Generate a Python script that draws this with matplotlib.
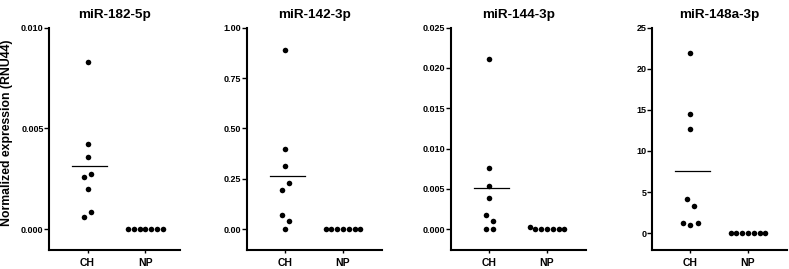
import numpy as np
import matplotlib
matplotlib.use("Agg")
import matplotlib.pyplot as plt

plt.rcParams['font.family'] = ['Liberation Sans', 'DejaVu Sans']

titles = ["miR-182-5p", "miR-142-3p", "miR-144-3p", "miR-148a-3p"]
groups = ["CH", "NP"]

ch_182 = [0.00829, 0.00421, 0.00360, 0.00276, 0.00260, 0.00202, 0.00084, 0.00059]
np_182 = [0, 0, 0, 0, 0, 0, 0]
ch_142 = [0.889, 0.398, 0.312, 0.228, 0.197, 0.069, 0.040, 0.0]
np_142 = [0, 0, 0, 0, 0, 0, 0]
ch_144 = [0.02116, 0.00764, 0.00537, 0.00380, 0.00169, 0.00095, 0.0, 0.0]
np_144 = [0.0002, 0, 0, 0, 0, 0, 0]
ch_148 = [21.9, 14.5, 12.7, 4.15, 3.27, 1.25, 0.97, 1.25]
np_148 = [0, 0, 0, 0, 0, 0, 0]

ytick_sets = [
    [0.000, 0.005, 0.010],
    [0.00, 0.25, 0.50, 0.75, 1.00],
    [0.000, 0.005, 0.010, 0.015, 0.020, 0.025],
    [0, 5, 10, 15, 20, 25],
]
ytick_fmt = ["{:.3f}", "{:.2f}", "{:.3f}", "{:.0f}"]
ylims = [(-0.00103, 0.010), (-0.103, 1.0), (-0.0026, 0.025), (-2.06, 25)]

# layout: dot slots for CH group (horizontal scatter), NP slots
ch_slots = [
    [0, 0, 0, 1, -1, 0, 1, -1],
    [0, 0, 0, 1, -1, -1, 1, 0],
    [0, 0, 0, 0, -1, 1, -1, 1],
    [0, 0, 0, -1, 1, -2, 0, 2],
]
np_slots = [-3, -2, -1, 0, 1, 2, 3]

ch_data = [ch_182, ch_142, ch_144, ch_148]
np_data = [np_182, np_142, np_144, np_148]

W, H = 789, 269
fig = plt.figure(figsize=(W / 100, H / 100), dpi=100)

lefts = [49, 246.7, 450.7, 651.7]
widths = [131, 135, 135, 135]
top_px, bot_px = 27.7, 250
unit = 57.8
for i in range(4):
    l = lefts[i]
    ax = fig.add_axes([l / W, (H - bot_px) / H, widths[i] / W, (bot_px - top_px) / H])
    x0 = 1 - 38.5 / unit
    ax.set_xlim(x0, x0 + widths[i] / unit)
    ax.set_ylim(*ylims[i])
    ch = np.array(ch_data[i])
    npv = np.array(np_data[i])
    ax.plot(1 + np.array(ch_slots[i]) * 0.0635, ch, 'o', color='black', ms=4.0, mew=0, clip_on=False)
    ax.plot(2 + np.array(np_slots) * 0.1, npv, 'o', color='black', ms=4.0, mew=0, clip_on=False)
    m = ch.mean()
    ax.plot([1 - 0.27, 1 + 0.34], [m, m], color='black', lw=0.9)
    for s in ['top', 'right']:
        ax.spines[s].set_visible(False)
    for s in ['left', 'bottom']:
        ax.spines[s].set_linewidth(1.5)
    ax.set_xticks([1, 2])
    ax.set_xticklabels(groups, fontsize=7.5, fontweight='bold')
    ax.set_yticks(ytick_sets[i])
    ax.set_yticklabels([ytick_fmt[i].format(v) for v in ytick_sets[i]], fontsize=6.5, fontweight='bold')
    ax.tick_params(axis='y', length=3.3, width=1, pad=0.6)
    ax.tick_params(axis='x', length=2.5, width=1, pad=3)
    ax.set_title(titles[i], fontsize=9.7, fontweight='bold', pad=7)
    ax.patch.set_alpha(0)

fig.text(7 / W, (H - 133) / H, "Normalized expression (RNU44)", rotation=90,
         ha='center', va='center', fontsize=8.8, fontweight='bold')

fig.savefig("out.png", dpi=100)
